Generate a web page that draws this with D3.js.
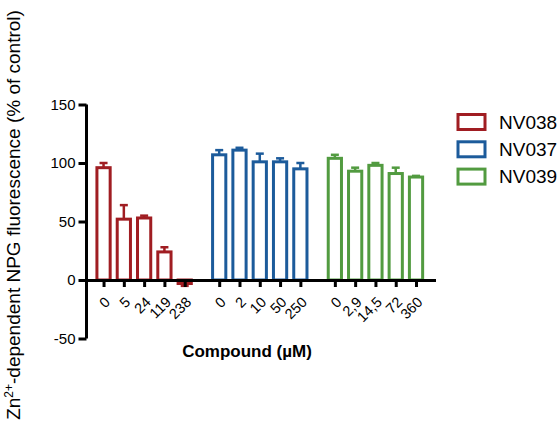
<!DOCTYPE html>
<html>
<head>
<meta charset="utf-8">
<script src="https://cdn.jsdelivr.net/npm/d3@7"></script>
<style>
  body { margin: 0; background: #fff; }
  svg { display: block; font-family: Arial, "Liberation Sans", sans-serif; }
</style>
</head>
<body>
<svg id="chart" width="559" height="424"></svg>
<script>
// Compounds and their colours
const compounds = ["NV038", "NV037", "NV039"];
const colors = ["#a01d22", "#1c5b9b", "#529b40"];

// Concentrations (µM) tested for each compound
const doses038 = ["0", "5", "24", "119", "238"];
const doses037 = ["0", "2", "10", "50", "250"];
const doses039 = ["0", "2,9", "14,5", "72", "360"];

// Mean Zn2+-dependent NPG fluorescence (% of control) and SEM
const mean038 = [96, 52, 53, 24, -3];
const err038 = [4, 12, 2, 4, 2];
const mean037 = [107, 111, 101, 101, 95];
const err037 = [4, 2, 7, 3, 5];
const mean039 = [104, 93, 98, 91, 88];
const err039 = [3, 3, 2, 5, 1];

const yTicks = [-50, 0, 50, 100, 150];

const groups = [
  { name: compounds[0], color: colors[0], doses: doses038, mean: mean038, err: err038 },
  { name: compounds[1], color: colors[1], doses: doses037, mean: mean037, err: err037 },
  { name: compounds[2], color: colors[2], doses: doses039, mean: mean039, err: err039 }
];

const groupGap = 0.7; // extra spacing between compounds, in bar slots
const rows = [];
groups.forEach((g, gi) => {
  g.doses.forEach((dose, i) => {
    rows.push({
      dose: dose,
      pos: gi * (g.doses.length + groupGap) + i,
      value: g.mean[i],
      err: g.err[i],
      color: g.color
    });
  });
});

const svg = d3.select("#chart");
const font = "Arial, 'Liberation Sans', sans-serif";

const x = d3.scaleLinear().domain([-0.84, 16.36]).range([86.5, 435.5]);
const y = d3.scaleLinear().domain([-50, 150]).range([338.5, 104.5]);
const slot = x(1) - x(0);
const barW = slot * 0.8;

// Bars
svg.append("g").selectAll("rect")
  .data(rows)
  .join("rect")
  .attr("x", d => x(d.pos) - barW / 2 + 1.5)
  .attr("width", barW - 3)
  .attr("y", d => Math.min(y(d.value), y(0)))
  .attr("height", d => Math.abs(y(d.value) - y(0)))
  .attr("fill", d => d.value < 0 ? d.color : "#fff")
  .attr("stroke", d => d.color)
  .attr("stroke-width", 3);

// Error bars (one-sided, away from zero)
const errG = svg.append("g").attr("stroke-width", 2.5);
rows.forEach(d => {
  const sign = d.value < 0 ? -1 : 1;
  const y0 = y(d.value), y1 = y(d.value + sign * d.err);
  errG.append("line")
    .attr("x1", x(d.pos)).attr("x2", x(d.pos))
    .attr("y1", y0).attr("y2", y1)
    .attr("stroke", d.color);
  errG.append("line")
    .attr("x1", x(d.pos) - 4).attr("x2", x(d.pos) + 4)
    .attr("y1", y1).attr("y2", y1)
    .attr("stroke", d.color);
});

// Y axis
const yAxis = svg.append("g")
  .attr("transform", "translate(86.5,0)")
  .call(d3.axisLeft(y).tickValues(yTicks).tickFormat(d => String(d)).tickSize(8).tickPadding(3));
yAxis.select(".domain").attr("stroke", "#000").attr("stroke-width", 3).attr("d", `M0,${y(150)}V${y(-50)}`);
yAxis.selectAll(".tick line").attr("stroke", "#000").attr("stroke-width", 3);
yAxis.selectAll(".tick text").attr("font-size", 15).attr("fill", "#000").attr("font-family", font);

// X axis at zero
const xAxis = svg.append("g")
  .attr("transform", `translate(0,${y(0)})`)
  .call(d3.axisBottom(x)
    .tickValues(rows.map(d => d.pos))
    .tickFormat((p, i) => rows[i].dose)
    .tickSize(7).tickSizeOuter(0));
xAxis.select(".domain").attr("stroke", "#000").attr("stroke-width", 3);
xAxis.selectAll(".tick line").attr("stroke", "#000").attr("stroke-width", 3);
xAxis.selectAll(".tick text")
  .attr("font-size", 14.5)
  .attr("fill", "#000")
  .attr("font-family", font)
  .attr("text-anchor", "end")
  .attr("dy", null)
  .attr("y", 0)
  .attr("transform", "translate(7,23) rotate(-45)");

// Axis titles
svg.append("text")
  .attr("x", 247).attr("y", 357)
  .attr("text-anchor", "middle")
  .attr("font-size", 17)
  .attr("font-weight", "bold")
  .text("Compound (µM)");

const yTitle = svg.append("text")
  .attr("transform", "translate(20,215) rotate(-90)")
  .attr("text-anchor", "middle")
  .attr("font-size", 19);
yTitle.append("tspan").text("Zn");
yTitle.append("tspan").attr("font-size", 12).attr("dy", -7).text("2+");
yTitle.append("tspan").attr("dy", 7).text("-dependent NPG fluorescence (% of control)");

// Legend
const legend = svg.append("g");
groups.forEach((g, i) => {
  const ly = 113 + i * 27.3;
  legend.append("rect")
    .attr("x", 458).attr("y", ly + 1.5)
    .attr("width", 27).attr("height", 15)
    .attr("fill", "#fff").attr("stroke", g.color).attr("stroke-width", 3);
  legend.append("text")
    .attr("x", 499).attr("y", ly + 9)
    .attr("dominant-baseline", "central")
    .attr("font-size", 19)
    .text(g.name);
});
</script>
</body>
</html>
